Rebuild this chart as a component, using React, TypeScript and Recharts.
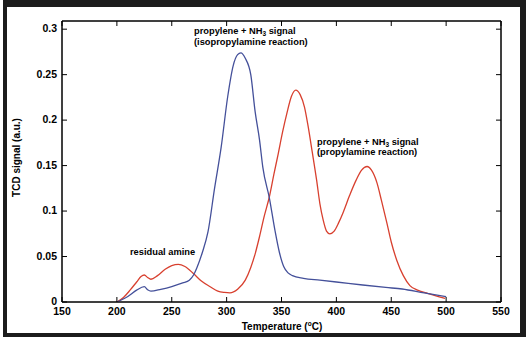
import { LineChart, Line, XAxis, YAxis, ReferenceArea } from "recharts";

// temperatures (°C) and TCD signal (a.u.)
const isoTemps = [200, 210, 218, 225, 228, 231, 240, 250, 260, 266, 270, 273, 278, 283, 289, 295, 301, 306, 310, 313, 317, 322, 326, 330, 333, 339, 344, 348, 352, 356, 360, 370, 385, 400, 424, 445, 460, 480, 500];
const isoSignal = [0, 0.006, 0.013, 0.0168, 0.0135, 0.012, 0.014, 0.017, 0.021, 0.024, 0.03, 0.038, 0.055, 0.077, 0.125, 0.17, 0.226, 0.26, 0.272, 0.274, 0.268, 0.25, 0.209, 0.178, 0.148, 0.114, 0.079, 0.055, 0.039, 0.032, 0.029, 0.026, 0.024, 0.022, 0.0187, 0.016, 0.0143, 0.01, 0.006];

const proTemps = [200, 206, 212, 218, 222, 225, 228, 231, 237, 244, 250, 256, 262, 270, 277, 285, 292, 298, 303, 310, 317, 322, 326, 330, 334, 339, 343, 347, 351, 355, 359, 363, 367, 371, 374, 378, 382, 385, 388, 391, 394, 398, 402, 406, 412, 418, 423, 428, 432, 437, 441, 446, 450, 455, 461, 467, 474, 482, 490, 499];
const proSignal = [0, 0.005, 0.013, 0.022, 0.028, 0.0297, 0.027, 0.025, 0.029, 0.036, 0.04, 0.0414, 0.039, 0.031, 0.023, 0.0168, 0.012, 0.0105, 0.01, 0.014, 0.024, 0.038, 0.053, 0.072, 0.093, 0.116, 0.14, 0.163, 0.187, 0.208, 0.226, 0.233, 0.228, 0.214, 0.195, 0.165, 0.134, 0.108, 0.09, 0.078, 0.075, 0.078, 0.087, 0.098, 0.117, 0.134, 0.145, 0.149, 0.145, 0.131, 0.112, 0.087, 0.066, 0.046, 0.029, 0.018, 0.013, 0.01, 0.007, 0.004];

const xTicks = [150, 200, 250, 300, 350, 400, 450, 500, 550];
const yTicks = [0, 0.05, 0.1, 0.15, 0.2, 0.25, 0.3];

const isoData = isoTemps.map((t, i) => ({ t, v: isoSignal[i] }));
const proData = proTemps.map((t, i) => ({ t, v: proSignal[i] }));

const font = "'Liberation Sans', Arial, Helvetica, sans-serif";
const TICK = 5;

// inward tick marks + labels (axes use tickSize=1, tickMargin=0)
const BottomTick = ({ x, y, payload }: any) => (
  <g>
    <line x1={x} y1={y - 1} x2={x} y2={y - 1 - TICK} stroke="#000" />
    <text x={x} y={y + 12} textAnchor="middle" fontSize={10.5} fontWeight={700} fontFamily={font} fill="#000">
      {payload.value}
    </text>
  </g>
);
const LeftTick = ({ x, y, payload }: any) => (
  <g>
    <line x1={x + 1} y1={y} x2={x + 1 + TICK} y2={y} stroke="#000" />
    <text x={x - 4} y={y} dy="0.3em" textAnchor="end" fontSize={10.5} fontWeight={700} fontFamily={font} fill="#000">
      {payload.value}
    </text>
  </g>
);
const TopTick = ({ x, y }: any) => <line x1={x} y1={y + 1} x2={x} y2={y + 1 + TICK} stroke="#000" />;
const RightTick = ({ x, y }: any) => <line x1={x - 1} y1={y} x2={x - 1 - TICK} y2={y} stroke="#000" />;

export default function App() {
  return (
    <div style={{ position: "absolute", left: 0, top: 0, width: 527, height: 341, background: "#fff" }}>
      {/* dark frame */}
      <div style={{ position: "absolute", left: 3, top: 0, width: 523, height: 337, background: "#1c1c1c" }} />
      <div style={{ position: "absolute", left: 7, top: 7, width: 513, height: 326, background: "#fff" }} />

      <div style={{ position: "absolute", left: 0, top: 0 }}>
        <LineChart
          width={527}
          height={341}
          margin={{ top: 20, right: 25, bottom: 9, left: 22 }}
          style={{ fontFamily: font }}
        >
          <XAxis
            dataKey="t"
            type="number"
            domain={[150, 550]}
            ticks={xTicks}
            height={30}
            allowDataOverflow
            stroke="#000"
            tickLine={false}
            tickSize={1}
            tickMargin={0}
            tick={<BottomTick />}
          />
          <XAxis
            xAxisId="top"
            orientation="top"
            dataKey="t"
            type="number"
            domain={[150, 550]}
            ticks={xTicks}
            height={1}
            allowDataOverflow
            stroke="#000"
            tickLine={false}
            tickSize={1}
            tickMargin={0}
            tick={<TopTick />}
          />
          <YAxis
            type="number"
            domain={[0, 0.309]}
            ticks={yTicks}
            width={40}
            allowDataOverflow
            stroke="#000"
            tickLine={false}
            tickSize={1}
            tickMargin={0}
            tick={<LeftTick />}
          />
          <YAxis
            yAxisId="right"
            orientation="right"
            type="number"
            domain={[0, 0.309]}
            ticks={yTicks}
            width={1}
            allowDataOverflow
            stroke="#000"
            tickLine={false}
            tickSize={1}
            tickMargin={0}
            tick={<RightTick />}
          />
          <ReferenceArea
            x1={150}
            x2={550}
            y1={0}
            y2={0.309}
            fill="none"
            stroke="#000"
            strokeWidth={1}
            ifOverflow="visible"
          />
          <Line
            data={proData}
            dataKey="v"
            type="monotone"
            stroke="#d8402f"
            strokeWidth={1.3}
            dot={false}
            isAnimationActive={false}
          />
          <Line
            data={isoData}
            dataKey="v"
            type="monotone"
            stroke="#44509a"
            strokeWidth={1.3}
            dot={false}
            isAnimationActive={false}
          />
        </LineChart>
      </div>

      {/* annotations and axis titles */}
      <svg
        width={527}
        height={341}
        style={{ position: "absolute", left: 0, top: 0, pointerEvents: "none" }}
        fontFamily={font}
        fontWeight={700}
        fill="#000"
      >
        <text x={194} y={34} fontSize={9.3}>
          propylene + NH<tspan dy={2} fontSize={6.5}>3</tspan>
          <tspan dy={-2}> signal</tspan>
        </text>
        <text x={194} y={44.5} fontSize={9.3}>(isopropylamine reaction)</text>

        <text x={317} y={144.5} fontSize={9.3}>
          propylene + NH<tspan dy={2} fontSize={6.5}>3</tspan>
          <tspan dy={-2}> signal</tspan>
        </text>
        <text x={317} y={155} fontSize={9.3}>(propylamine reaction)</text>

        <text x={130} y={254.5} fontSize={9.3}>residual amine</text>

        <text x={282} y={329.5} fontSize={10} textAnchor="middle">
          Temperature (<tspan dy={-4} fontSize={6.5}>o</tspan>
          <tspan dy={4}>C)</tspan>
        </text>
        <text transform="translate(20,157.5) rotate(-90)" fontSize={10} textAnchor="middle">
          TCD signal (a.u.)
        </text>
      </svg>
    </div>
  );
}
